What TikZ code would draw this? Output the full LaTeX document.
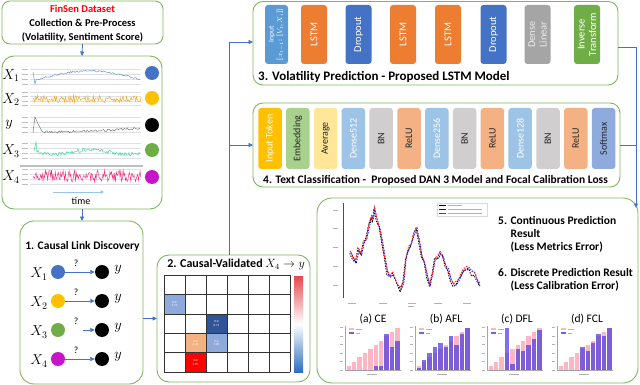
\documentclass[tikz,border=0pt]{standalone}
\usepackage{fontspec}
\setmainfont{Carlito}
\usetikzlibrary{arrows.meta,calc}
\definecolor{gbord}{HTML}{7DB95B}
\definecolor{arrblue}{HTML}{4472C4}
\definecolor{cblue}{HTML}{4472C4}
\definecolor{cyel}{HTML}{FFC000}
\definecolor{cgreen}{HTML}{70AD47}
\definecolor{cmag}{HTML}{C814C8}
\definecolor{lstmor}{HTML}{ED7D31}
\definecolor{inpblue}{HTML}{5B9BD5}
\definecolor{dgrey}{HTML}{A5A5A5}
\definecolor{invgreen}{HTML}{70AD47}
\definecolor{goldb}{HTML}{FFC000}
\definecolor{embg}{HTML}{A9D18E}
\definecolor{avgy}{HTML}{FFE699}
\definecolor{dnsb}{HTML}{9DC3E6}
\definecolor{bng}{HTML}{D0CECE}
\definecolor{relo}{HTML}{F4B183}
\definecolor{smx}{HTML}{8FAADC}
\definecolor{pinkbar}{HTML}{FFB6C4}
\definecolor{bluebar}{HTML}{4B3BE0}
\definecolor{tsblue}{HTML}{5B8BE8}
\definecolor{tsorange}{HTML}{F5A623}
\definecolor{tsgreen}{HTML}{3DD69A}
\definecolor{tspink}{HTML}{F2307A}
\definecolor{cellL}{HTML}{8EA9DB}
\definecolor{cellD}{HTML}{2F5597}
\definecolor{cellO}{HTML}{F4B183}
\definecolor{cellR}{HTML}{FF0000}
\definecolor{cbred}{HTML}{E8474F}
\definecolor{cbblue}{HTML}{2A6FBF}
\definecolor{timeblue}{HTML}{9DC3E6}
\newcommand\mybarplot[2]{%
  \begin{scope}[shift={(#1,0)}]
    \draw[black!35,line width=0.3pt] (0,326) -- (0,370) -- (56,370);
    \foreach \k in {1,...,10}
      \fill[pinkbar] ({1.5+5.4*(\k-1)},370) rectangle ({5.9+5.4*(\k-1)},{370-4.2*\k});
    \foreach \b [count=\k] in {#2}
      \fill[bluebar,opacity=0.72] ({1.5+5.4*(\k-1)},370) rectangle ({5.9+5.4*(\k-1)},{370-42*\b});
    \fill[pinkbar] (4,327.5) rectangle (9,330);
    \fill[bluebar!80] (4,331.5) rectangle (9,334);
    \draw[black!30,line width=0.5pt] (10.5,328.8) -- (17,328.8) (10.5,332.8) -- (15,332.8);
    \foreach \k in {0,...,5} \draw[black!30,line width=0.5pt] ({-5},{370-8.5*\k}) -- ({-2},{370-8.5*\k});
    \draw[black!30,line width=0.5pt] (22,374) -- (32,374);
  \end{scope}}
\begin{document}
\begin{tikzpicture}[x=1pt,y=-1pt,
  panel/.style={draw=gbord,line width=0.9pt,fill=white,inner sep=0pt,outer sep=0pt},
  conn/.style={draw=arrblue,line width=0.8pt},
  arr/.style={conn,-{Triangle[length=4.5pt,width=4pt]}},
  ttl/.style={font=\fontsize{11.5}{13}\selectfont\bfseries,inner sep=0pt},
  rtxt/.style={font=\fontsize{11.5}{13}\selectfont\bfseries,inner sep=0pt,anchor=west},
  btxt/.style={font=\fontsize{11.5}{13}\selectfont,inner sep=0pt},
  lstmblk/.style={rotate=90,rounded corners=3pt,inner sep=0pt,align=center,minimum width=59pt,minimum height=26pt,font=\fontsize{10.5}{11.5}\selectfont,text=white},
  danblk/.style={rotate=90,rounded corners=3pt,inner sep=0pt,align=center,minimum width=61pt,minimum height=23.5pt,font=\fontsize{10}{11}\selectfont},
  xlab/.style={font=\fontsize{14}{14}\selectfont,inner sep=0pt},
  dot/.style={circle,inner sep=0pt,minimum size=14pt},
  gline/.style={draw=black!12,line width=0.3pt},
  celltxt/.style={font=\fontsize{3.2}{3.6}\selectfont,text=white,align=center,inner sep=0pt}
]
\useasboundingbox (0,0) rectangle (640,385);
\fill[white] (0,0) rectangle (640,385);

% ---------- panels ----------
\node[panel,rounded corners=8pt,minimum width=161pt,minimum height=43pt] (p0) at (82.5,22.5) {};
\node[panel,rounded corners=12pt,minimum width=160pt,minimum height=153pt] (p1) at (82,132.5) {};
\node[panel,rounded corners=14pt,minimum width=123pt,minimum height=163pt] (p1b) at (81.5,302.5) {};
\node[panel,rounded corners=12pt,minimum width=153pt,minimum height=127pt] (p2) at (233.5,318.5) {};
\node[panel,rounded corners=10pt,minimum width=365pt,minimum height=83.5pt] (p3) at (435.5,43.25) {};
\node[panel,rounded corners=10pt,minimum width=367pt,minimum height=84pt] (p4) at (436.5,145) {};
\node[panel,rounded corners=15pt,minimum width=321pt,minimum height=185pt] (p5) at (477.5,290.5) {};

% ---------- panel 0 text ----------
\node[font=\fontsize{10.5}{12}\selectfont\bfseries,text=red,inner sep=0pt] (t0a) at (82.5,8.5) {FinSen Dataset};
\node[font=\fontsize{10.5}{12}\selectfont\bfseries,inner sep=0pt] (t0b) at (82.5,23) {Collection \& Pre-Process};
\node[font=\fontsize{10.5}{12}\selectfont\bfseries,inner sep=0pt] (t0c) at (82.5,37.5) {(Volatility, Sentiment Score)};

% ---------- panel 1: time series ----------
\foreach \y in {69,74,79,84, 92,96.5,101,105.5, 117,122,127,132, 143,148,153,158, 169,174,179,184}
  \draw[gline] (30,\y) -- (141,\y);
\draw[black!25,line width=1.2pt] (20,166) -- (143,166);
\foreach \y in {69,74,79,84, 92,96.5,101,105.5, 117,122,127,132, 143,148,153,158, 169,174,179,184}
  \draw[black!25,line width=0.5pt] (22,\y) -- (28,\y);
\pgfmathsetseed{7}
\draw[tsblue,line width=0.45pt] (33,72) -- (35,84) \foreach \i in {1,...,100}{ -- ({35+1.05*\i},{80-9*sin(1.75*\i)+0.8*rand}) };
\draw[tsorange,line width=0.45pt] (33,99) \foreach \i in {1,...,120}{ -- ({33+0.9*\i},{99+3.5*rand}) };
\draw[black!55,line width=0.45pt] (33,133) -- (35,117) -- (38,124) -- (42,131) \foreach \i in {1,...,100}{ -- ({42+0.98*\i},{132-4*(\i/100)^2+1.2*rand}) };
\draw[tsgreen,line width=0.45pt] (34,151) -- (36,142) \foreach \i in {1,...,104}{ -- ({36+\i},{152+2.5*sin(5*\i)+2*rand}) };
\draw[tspink,line width=0.45pt] (33,176) \foreach \i in {1,...,140}{ -- ({33+0.77*\i},{176+6*rand}) };

\node[xlab] (l1) at (11,76) {$X_1$};
\node[xlab] (l2) at (11,100) {$X_2$};
\node[xlab] (l3) at (9,125) {$y$};
\node[xlab] (l4) at (11,151) {$X_3$};
\node[xlab] (l5) at (11,177) {$X_4$};
\node[dot,fill=cblue] (d1) at (152,73) {};
\node[dot,fill=cyel] (d2) at (152,98) {};
\node[dot,fill=black] (d3) at (152,125) {};
\node[dot,fill=cgreen] (d4) at (152,150) {};
\node[dot,fill=cmag] (d5) at (152,177) {};
\coordinate (ta) at (53,192);
\coordinate (tb) at (104,192);
\draw[timeblue,line width=1pt,-{Triangle[length=3.5pt,width=3.5pt]}] (ta) -- (tb);
\node[font=\fontsize{10}{11}\selectfont,inner sep=0pt] (tm) at (81,201) {time};

% ---------- panel 1b: causal link discovery ----------
\node[ttl] (t1) at (82.5,246) {1. Causal Link Discovery};
\foreach \yy/\cc/\kk in {272/cblue/1, 301/cyel/2, 330/cgreen/3, 359/cmag/4}{
  \node[xlab] (cx\kk) at (39,{\yy+2}) {$X_{\kk}$};
  \node[dot,fill=\cc] (cd\kk) at (58,\yy) {};
  \node[dot,fill=black] (cy\kk) at (102,\yy) {};
  \node[xlab] (cl\kk) at (118,{\yy-2}) {$y$};
  \node[font=\fontsize{9.5}{10}\selectfont,inner sep=0pt] (cq\kk) at (76,{\yy-9}) {?};
}
\draw[arr,line width=0.7pt] (cd1) -- (cy1);
\draw[arr,line width=0.7pt] (cd2) -- (cy2);
\draw[arr,line width=0.7pt,shorten <=18pt] (cd3) -- (cy3);
\draw[arr,line width=0.35pt] (cd4) -- (cy4);

% ---------- panel 2: causal validated ----------
\node[ttl,font=\fontsize{12}{14}\selectfont\bfseries] (t2) at (236,264.5) {2. Causal-Validated $X_4 \rightarrow y$};
\fill[cellL] (164,294.4) rectangle (185,313.8);
\fill[cellD] (206,313.8) rectangle (227,333.2);
\fill[cellO] (185,333.2) rectangle (206,352.6);
\fill[cellL] (206,333.2) rectangle (227,352.6);
\fill[cellR] (185,352.6) rectangle (206,372);
\node[celltxt] (v1) at (174.5,304.1) {0.0\\1.72};
\node[celltxt] (v2) at (216.5,323.5) {0.0\\0.71};
\node[celltxt] (v3) at (195.5,342.9) {0.0\\2.35};
\node[celltxt] (v4) at (216.5,342.9) {0.0\\1.05};
\node[celltxt] (v5) at (195.5,362.3) {0.0\\3.95};
\foreach \c in {0,...,6} \draw[black!80,line width=0.6pt] ({164+21*\c},275) -- ({164+21*\c},372);
\foreach \r in {0,...,5} \draw[black!80,line width=0.6pt] (164,{275+19.4*\r}) -- (290,{275+19.4*\r});
\shade[top color=cbred,bottom color=cbblue,middle color=white] (294,276) rectangle (303,372);

% ---------- panel 3: LSTM ----------
\node[lstmblk,fill=inpblue,minimum height=23pt,font=\fontsize{7.5}{8.5}\selectfont] (b1) at (276.5,34.5) {Input\\{[}$x_{t-1}$: {[}$V_t$, $X_i${]}{]}};
\node[lstmblk,fill=lstmor] (b2) at (314,34.5) {LSTM};
\node[lstmblk,fill=cblue] (b3) at (358.5,34.5) {Dropout};
\node[lstmblk,fill=lstmor] (b4) at (403,34.5) {LSTM};
\node[lstmblk,fill=lstmor] (b5) at (448,34.5) {LSTM};
\node[lstmblk,fill=cblue] (b6) at (493.5,34.5) {Dropout};
\node[lstmblk,fill=dgrey,text=black!8] (b7) at (537.5,34.5) {Dense\\Linear};
\node[lstmblk,fill=invgreen] (b8) at (587,34.5) {Inverse\\Transform};
\node[ttl,anchor=west,font=\fontsize{13}{14}\selectfont\bfseries] (t3) at (258,77) {3. Volatility Prediction - Proposed LSTM Model};

% ---------- panel 4: DAN ----------
\foreach \lab/\col/\tc [count=\k] in {Input Token/goldb/white, Embedding/embg/black!85, Average/avgy/black!85, Dense512/dnsb/white, BN/bng/black!85, ReLU/relo/black!85, Dense256/dnsb/white, BN/bng/black!85, ReLU/relo/black!85, Dense128/dnsb/white, BN/bng/black!85, ReLU/relo/black!85, Softmax/smx/black!85}
  \node[danblk,fill=\col,text=\tc] (c\k) at ({270+27.8*(\k-1)},138.5) {\lab};
\node[ttl,anchor=west] (t4) at (263,180) {4. Text Classification -\ \ Proposed DAN 3 Model and Focal Calibration Loss};

% ---------- panel 5: results ----------
\draw[black!70,line width=0.5pt] (343,203) -- (343,298);
\foreach \y in {210,228,247,266,285} \draw[black!30,line width=0.5pt] (333,\y) -- (338,\y);
\foreach \x in {352,383,412,438,467} \draw[black!30,line width=0.5pt] ({\x-4},303) -- ({\x+4},303);
\draw[black!30,line width=0.4pt] (408,306.5) -- (414,306.5);
\def\lpts{0/0.46, .02/0.4, .04/0.35, .06/0.5, .08/0.44, .10/0.58, .12/0.62, .14/0.78, .16/0.88, .17/0.82, .18/0.97, .20/0.85, .22/0.75, .24/0.58, .26/0.4, .28/0.22, .30/0.19, .32/0.22, .34/0.15, .36/0.08, .38/0.03, .40/0.12, .42/0.4, .44/0.5, .46/0.55, .48/0.68, .50/0.73, .52/0.6, .54/0.4, .56/0.35, .58/0.2, .60/0.08, .62/0.2, .64/0.38, .66/0.4, .68/0.45, .70/0.42, .72/0.3, .74/0.25, .76/0.15, .78/0.07, .80/0.1, .82/0.15, .84/0.2, .86/0.25, .88/0.27, .90/0.26, .92/0.22, .94/0.2, .96/0.12, .98/0.08}
\pgfmathsetseed{3}
\draw[black,line width=0.8pt,dash pattern=on 1.5pt off 1.2pt] (350,253) \foreach \t/\v in \lpts { -- ({350+132*\t},{293-86*\v+2*rand}) };
\draw[blue,line width=0.8pt,dash pattern=on 1.5pt off 1.2pt] (351,252) \foreach \t/\v in \lpts { -- ({351+132*\t},{292-86*\v+2*rand}) };
\draw[red!90,line width=0.8pt,dash pattern=on 1.5pt off 1.2pt] (350,251) \foreach \t/\v in \lpts { -- ({350.5+132*\t},{291-86*\v+2*rand}) };
\draw[black!15,fill=white,line width=0.3pt] (437,203) rectangle (487,216);
\draw[black,line width=0.6pt] (439,205.5) -- (446,205.5);
\draw[blue,line width=0.6pt] (439,209.5) -- (446,209.5);
\draw[red,line width=0.6pt] (439,213.5) -- (446,213.5);
\draw[black!30,line width=0.6pt] (448,205.5) -- (462,205.5) (448,209.5) -- (482,209.5) (448,213.5) -- (482,213.5);

\node[rtxt] (r1) at (498,220) {5. Continuous Prediction};
\node[rtxt] (r2) at (510.5,233.5) {Result};
\node[rtxt] (r3) at (510.5,247) {(Less Metrics Error)};
\node[rtxt] (r4) at (498,272) {6. Discrete Prediction Result};
\node[rtxt] (r5) at (510.5,286) {(Less Calibration Error)};

\node[btxt] (h1) at (373,319) {(a) CE};
\node[btxt] (h2) at (446,319) {(b) AFL};
\node[btxt] (h3) at (517,319) {(c) DFL};
\node[btxt] (h4) at (587,319) {(d) FCL};
\mybarplot{345}{0,0,0,0,0,0.1,0.1,0.85,0.55,0.7}
\mybarplot{415}{0.05,0.25,0.4,0.55,0.65,0.55,0.8,0.6,0.85,1.0}
\mybarplot{487}{0,0,0,1.0,0.15,0.5,0.45,0.6,0.75,0.95}
\mybarplot{557}{0,0,0,0,0.55,0.45,0.65,0.85,0.8,1.0}

% ---------- connectors ----------
\draw[arr] (p0.south) -- (p1.north);
\draw[arr] (p1.south) -- (p1.south |- p1b.north);
\draw[arr] (p2.west -| p1b.east) -- (p2.west);
\coordinate (vx) at (229,42);
\draw[arr] (vx |- p2.north) -- (vx) -- (vx -| p3.west);
\draw[arr] (vx |- p4.west) -- (p4.west);
\coordinate (rx) at (636,47);
\coordinate (rend) at (636,208);
\draw[conn] (p3.east |- rx) -- (rx);
\draw[conn] (p4.east) -- (p4.east -| rx);
\draw[arr] (rx) -- (rend);
\end{tikzpicture}
\end{document}
